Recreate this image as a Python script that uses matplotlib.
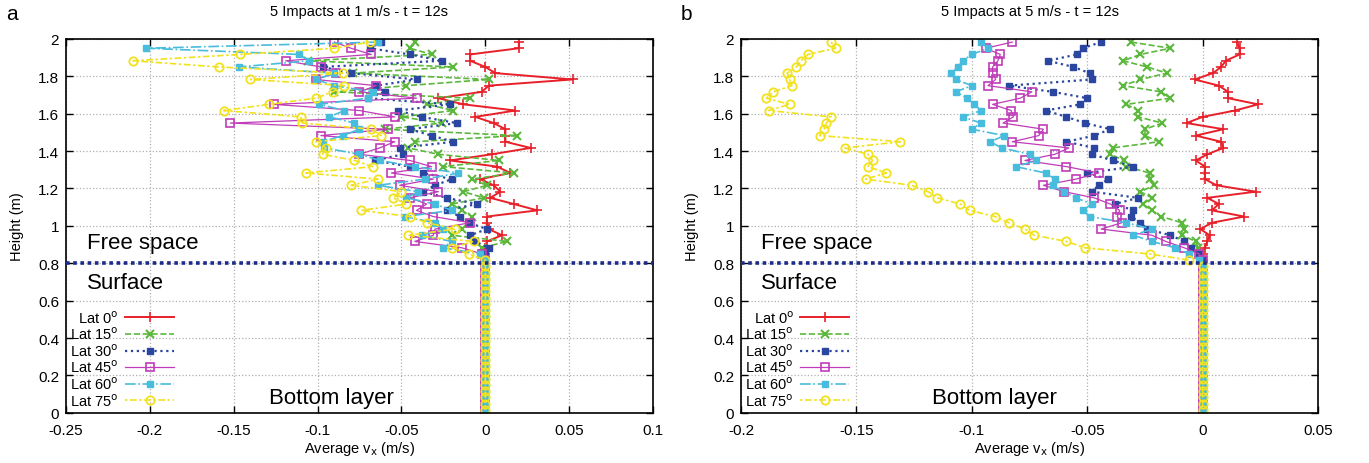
import matplotlib
matplotlib.use("Agg")
import matplotlib.pyplot as plt

plt.rcParams['font.family'] = ['Liberation Sans', 'DejaVu Sans']

# heights of the sampled layers (m), above and below the surface
heights = [1.983, 1.95, 1.917, 1.883, 1.85, 1.817, 1.783, 1.75, 1.717, 1.683,
           1.65, 1.617, 1.583, 1.55, 1.517, 1.483, 1.45, 1.417, 1.383, 1.35,
           1.317, 1.283, 1.25, 1.217, 1.183, 1.15, 1.117, 1.083, 1.05, 1.017,
           0.983, 0.95, 0.917, 0.883, 0.85, 0.817]
bottom_heights = [0.783, 0.75, 0.717, 0.683, 0.65, 0.617, 0.583, 0.55, 0.517, 0.483,
                  0.45, 0.417, 0.383, 0.35, 0.317, 0.283, 0.25, 0.217, 0.183, 0.15,
                  0.117, 0.083, 0.05, 0.017]
bottom_vx = [0.0, 0.0, 0.0, 0.0, 0.0, 0.0, 0.0, 0.0, 0.0, 0.0, 0.0, 0.0,
             0.0, 0.0, 0.0, 0.0, 0.0, 0.0, 0.0, 0.0, 0.0, 0.0, 0.0, 0.0]

labels = ['Lat 0$^\\mathrm{o}$', 'Lat 15$^\\mathrm{o}$', 'Lat 30$^\\mathrm{o}$',
          'Lat 45$^\\mathrm{o}$', 'Lat 60$^\\mathrm{o}$', 'Lat 75$^\\mathrm{o}$']

# panel a : 1 m/s
a_lat0 = [0.020, 0.020, -0.009, -0.009, 0.000, 0.006, 0.052, 0.002, -0.002, -0.028,
          -0.013, 0.018, -0.006, 0.005, 0.012, 0.012, 0.012, 0.027, 0.004, -0.021,
          0.007, 0.015, -0.003, 0.005, 0.009, 0.003, 0.017, 0.031, 0.001, 0.001,
          0.002, 0.010, 0.001, 0.000, 0.000, 0.000]
a_lat15 = [-0.042, -0.045, -0.032, -0.106, -0.019, -0.079, 0.002, -0.047, -0.090, -0.009,
           -0.035, -0.019, -0.050, -0.026, -0.060, 0.019, -0.042, -0.046, -0.028, 0.008,
           -0.025, 0.017, -0.008, 0.001, -0.013, -0.001, -0.020, -0.014, -0.008, -0.010,
           -0.014, -0.020, 0.013, -0.002, 0.000, 0.000]
a_lat30 = [-0.062, -0.069, -0.045, -0.026, -0.097, -0.080, -0.041, -0.065, -0.060, -0.070,
           -0.021, -0.052, -0.038, -0.017, -0.045, -0.032, -0.019, -0.051, -0.049, -0.066,
           -0.045, -0.037, -0.020, -0.030, -0.037, -0.023, -0.005, -0.023, -0.015, -0.010,
           0.001, -0.009, -0.006, 0.002, 0.000, 0.000]
a_lat45 = [-0.090, -0.080, -0.068, -0.119, -0.098, -0.089, -0.101, -0.065, -0.075, -0.041,
           -0.126, -0.075, -0.054, -0.152, -0.058, -0.098, -0.054, -0.063, -0.075, -0.045,
           -0.032, -0.056, -0.031, -0.051, -0.028, -0.045, -0.035, -0.041, -0.031, -0.009,
           -0.030, -0.031, -0.042, -0.014, -0.002, 0.000]
a_lat60 = [-0.064, -0.202, -0.111, -0.105, -0.147, -0.090, -0.101, -0.090, -0.067, -0.070,
           -0.099, -0.084, -0.093, -0.078, -0.075, -0.085, -0.097, -0.096, -0.075, -0.063,
           -0.042, -0.016, -0.036, -0.064, -0.040, -0.047, -0.030, -0.020, -0.048, -0.030,
           -0.025, -0.038, -0.020, -0.025, -0.003, 0.000]
a_lat75 = [-0.069, -0.090, -0.146, -0.210, -0.159, -0.085, -0.140, -0.084, -0.091, -0.101,
           -0.129, -0.156, -0.110, -0.109, -0.068, -0.062, -0.101, -0.095, -0.097, -0.078,
           -0.067, -0.107, -0.064, -0.080, -0.050, -0.055, -0.047, -0.074, -0.045, -0.035,
           -0.018, -0.046, -0.007, -0.020, -0.010, 0.000]

# panel b : 5 m/s
b_lat0 = [0.015, 0.016, 0.016, 0.010, 0.008, 0.0045, -0.0035, 0.007, 0.011, 0.011,
          0.024, 0.014, 0.000, -0.007, 0.009, -0.003, 0.008, 0.009, 0.002, -0.003,
          0.001, 0.001, 0.001, 0.006, 0.023, 0.002, 0.007, 0.004, 0.018, 0.004,
          -0.001, 0.003, 0.002, 0.001, 0.000, 0.000]
b_lat15 = [-0.031, -0.014, -0.027, -0.0345, -0.024, -0.0155, -0.027, -0.0345, -0.018, -0.014,
           -0.033, -0.028, -0.028, -0.0175, -0.025, -0.025, -0.019, -0.039, -0.040, -0.034,
           -0.033, -0.023, -0.023, -0.021, -0.027, -0.022, -0.026, -0.022, -0.018, -0.009,
           -0.008, -0.009, -0.003, -0.002, -0.001, 0.000]
b_lat30 = [-0.044, -0.052, -0.0545, -0.067, -0.056, -0.049, -0.048, -0.084, -0.065, -0.050,
           -0.053, -0.068, -0.059, -0.051, -0.040, -0.047, -0.059, -0.047, -0.048, -0.039,
           -0.030, -0.050, -0.041, -0.045, -0.048, -0.028, -0.038, -0.030, -0.031, -0.027,
           -0.024, -0.014, -0.008, -0.005, -0.0015, 0.000]
b_lat45 = [-0.0825, -0.094, -0.0877, -0.0887, -0.091, -0.091, -0.0897, -0.093, -0.074, -0.079,
           -0.091, -0.083, -0.082, -0.0865, -0.069, -0.071, -0.0825, -0.058, -0.064, -0.077,
           -0.059, -0.045, -0.055, -0.069, -0.060, -0.047, -0.040, -0.036, -0.037, -0.035,
           -0.044, -0.022, -0.016, -0.008, -0.0015, 0.000]
b_lat60 = [-0.096, -0.093, -0.100, -0.104, -0.106, -0.109, -0.107, -0.100, -0.107, -0.102,
           -0.099, -0.096, -0.104, -0.096, -0.100, -0.086, -0.092, -0.087, -0.075, -0.072,
           -0.081, -0.068, -0.064, -0.065, -0.060, -0.055, -0.048, -0.052, -0.049, -0.033,
           -0.022, -0.030, -0.022, -0.012, -0.006, -0.0015]
b_lat75 = [-0.161, -0.159, -0.171, -0.174, -0.176, -0.180, -0.179, -0.178, -0.186, -0.189,
           -0.179, -0.188, -0.161, -0.163, -0.164, -0.166, -0.131, -0.155, -0.145, -0.143,
           -0.145, -0.137, -0.146, -0.126, -0.119, -0.115, -0.105, -0.101, -0.090, -0.084,
           -0.077, -0.073, -0.059, -0.051, -0.023, -0.006]

styles = [
    dict(color='#e8202a', ls='-', marker='+', ms=7, mew=1.2, mfc='none', lw=1.4),
    dict(color='#5cb83c', ls='--', marker='x', ms=6, mew=1.5, mfc='none'),
    dict(color='#2a46a0', ls=':', marker='s', ms=4.5, mew=1.0, mfc='#2a46a0', lw=1.6),
    dict(color='#c03cb8', ls='-', marker='s', ms=5.5, mew=1.2, mfc='none', lw=0.9),
    dict(color='#48bcdc', ls='-.', marker='s', ms=4.5, mew=1.0, mfc='#48bcdc'),
    dict(color='#f2e21e', ls=(0, (1.5, 1.5, 4, 1.5)), marker='o', ms=6, mew=1.3, mfc='none'),
]

fig = plt.figure(figsize=(13.69, 4.64), dpi=100)
ax_a = fig.add_axes([0.0482, 0.108, 0.4288, 0.806])
ax_b = fig.add_axes([0.5413, 0.108, 0.4215, 0.806])

panels = [
    (ax_a, [a_lat0, a_lat15, a_lat30, a_lat45, a_lat60, a_lat75],
     '5 Impacts at 1 m/s - t = 12s', (-0.25, 0.1),
     [-0.25, -0.2, -0.15, -0.1, -0.05, 0, 0.05, 0.1],
     ['-0.25', '-0.2', '-0.15', '-0.1', '-0.05', '0', '0.05', '0.1'], 'a'),
    (ax_b, [b_lat0, b_lat15, b_lat30, b_lat45, b_lat60, b_lat75],
     '5 Impacts at 5 m/s - t = 12s', (-0.2, 0.05),
     [-0.2, -0.15, -0.1, -0.05, 0, 0.05],
     ['-0.2', '-0.15', '-0.1', '-0.05', '0', '0.05'], 'b'),
]

for ax, series, title, xlim, xt, xtl, tag in panels:
    for vals, lab, st in zip(series, labels, styles):
        st = dict(st)
        lw = st.pop('lw', 1.2)
        ax.plot(vals + bottom_vx, heights + bottom_heights, label=lab, lw=lw, **st)
    ax.axhline(0.8, color='#1c2a8c', ls=(0, (1, 1)), lw=2.6, zorder=5)
    ax.set_xlim(*xlim)
    ax.set_ylim(0, 2)
    ax.set_xticks(xt)
    ax.set_xticklabels(xtl)
    ax.set_yticks([0, 0.2, 0.4, 0.6, 0.8, 1, 1.2, 1.4, 1.6, 1.8, 2])
    ax.set_yticklabels(['0', '0.2', '0.4', '0.6', '0.8', '1', '1.2', '1.4', '1.6', '1.8', '2'])
    ax.tick_params(direction='in', top=True, right=True, labelsize=11, length=5, width=1)
    ax.tick_params(axis='x', pad=7)
    ax.tick_params(axis='y', pad=5)
    ax.grid(True, color='#b0b0b0', ls=':', lw=0.9)
    for sp in ax.spines.values():
        sp.set_linewidth(1.2)
    ax.set_title(title, fontsize=10.5, pad=17)
    ax.set_xlabel('Average v$_\\mathrm{x}$ (m/s)', fontsize=10.5, labelpad=2)
    ax.set_ylabel('Height (m)', fontsize=10.5, labelpad=10)
    x0 = xlim[0]
    span = xlim[1] - xlim[0]
    ax.text(x0 + 0.035 * span, 0.91, 'Free space', fontsize=16, va='center')
    ax.text(x0 + 0.035 * span, 0.695, 'Surface', fontsize=16, va='center')
    ax.text(-0.092 if tag == 'a' else -0.090, 0.08, 'Bottom layer', fontsize=16,
            va='center', ha='center')
    leg = ax.legend(loc='lower left', bbox_to_anchor=(0.0, 0.0), frameon=False,
                    fontsize=10.5, handlelength=3.4, markerfirst=False, labelspacing=0.0,
                    borderaxespad=0.1, handletextpad=0.4, borderpad=0.2)
    pos = ax.get_position()
    fig.text(pos.x0 - 0.044, 0.99, tag, fontsize=15, va='top')

fig.savefig('out.png', dpi=100)
